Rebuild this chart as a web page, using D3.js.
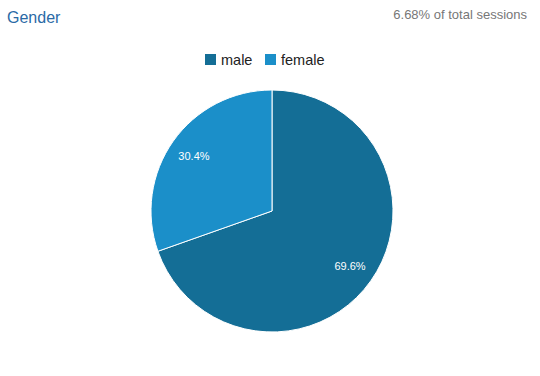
<!DOCTYPE html>
<html><head><meta charset="utf-8">
<script src="https://cdn.jsdelivr.net/npm/d3@7"></script>
<style>body{margin:0;background:#fff;}svg{display:block;font-family:Arial,"Liberation Sans",sans-serif;}</style>
</head><body>
<svg id="chart" width="540" height="376"></svg>
<script>
const categories = ["male", "female"];
const values = [69.6, 30.4];
const colors = ["#146e96", "#1b8fc9"];
const title = "Gender";
const subtitle = "6.68% of total sessions";

const svg = d3.select("#chart");
svg.append("rect").attr("width",540).attr("height",376).attr("fill","#fff");
svg.append("text").attr("x",7).attr("y",23).attr("font-size",16).attr("fill","#2a6aa6").text(title);
svg.append("text").attr("x",527).attr("y",19).attr("text-anchor","end").attr("font-size",13).attr("fill","#777").text(subtitle);

const color = d3.scaleOrdinal().domain(categories).range(colors);
const data = categories.map((c,i)=>({cat:c,val:values[i]}));

// legend
const legX = [205, 265];
const leg = svg.append("g");
data.forEach((d,i)=>{
  leg.append("rect").attr("x",legX[i]).attr("y",54).attr("width",11).attr("height",11).attr("fill",color(d.cat));
  leg.append("text").attr("x",legX[i]+16).attr("y",65).attr("font-size",14.5).attr("fill","#222").text(d.cat);
});

const cx=272, cy=211, r=121;
const pie = d3.pie().value(d=>d.val).sort(null);
const arc = d3.arc().innerRadius(0).outerRadius(r);
const labelArc = d3.arc().innerRadius(r*0.79).outerRadius(r*0.79);
const g = svg.append("g").attr("transform",`translate(${cx},${cy})`);
const arcs = pie(data);
g.selectAll("path").data(arcs).join("path").attr("d",arc).attr("fill",d=>color(d.data.cat)).attr("stroke","#fff").attr("stroke-width",1);
g.selectAll("text").data(arcs).join("text")
  .attr("transform",d=>`translate(${labelArc.centroid(d)})`)
  .attr("text-anchor","middle").attr("dy","0.35em").attr("font-size",11).attr("fill","#fff")
  .text(d=>d.data.val.toFixed(1)+"%");
</script>
</body></html>
